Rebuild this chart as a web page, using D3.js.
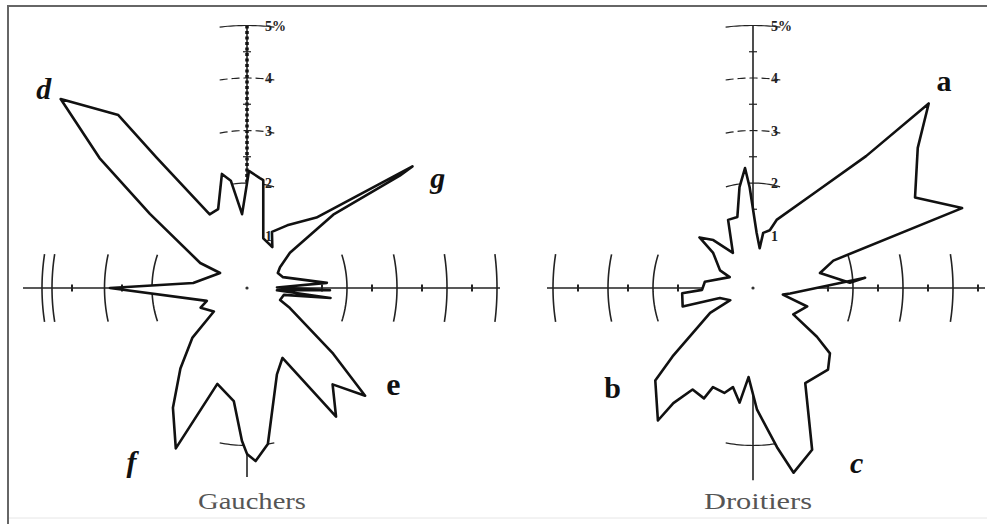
<!DOCTYPE html>
<html><head><meta charset="utf-8">
<script src="https://cdn.jsdelivr.net/npm/d3@7"></script>
<style>html,body{margin:0;padding:0;background:#fff;} svg{display:block}</style>
</head><body>
<script>
// ---------- DATA ----------
const panelNames = ["Gauchers", "Droitiers"];

// compass bearing (deg, clockwise from top) and frequency (%)
const gauchersAngles = [1, 7, 9, 19, 33, 25, 34, 46, 55, 55, 51, 52, 59, 65, 74, 86.5, 89, 91.5, 94, 96.5, 100, 109, 114, 126, 131, 137, 144, 152, 160, 172, 177, 180, 182, 187, 198, 205, 213, 221, 229, 236, 248, 253, 270, 275, 298, 297, 306, 310, 314, 322, 324, 332, 339, 347, 351, 356];
const gauchersValues = [2.23, 2.11, 2.08, 1.0, 0.93, 1.18, 1.44, 1.93, 4.04, 3.73, 2.22, 1.09, 0.77, 0.68, 0.75, 1.6, 0.6, 1.66, 0.6, 1.68, 0.75, 0.7, 0.94, 2.13, 3.13, 2.51, 3.03, 1.51, 1.75, 3.0, 3.3, 3.16, 2.91, 2.17, 1.92, 3.37, 2.72, 2.03, 1.45, 0.8, 1.0, 0.84, 2.74, 1.08, 0.61, 1.05, 2.4, 3.85, 5.18, 4.18, 3.06, 1.59, 1.61, 2.23, 2.07, 1.41];

const droitiersAngles = [356, 358, 4, 10, 11, 17, 20, 34, 42, 45, 51, 62, 70, 72, 78, 87, 85, 98, 102, 108, 122, 126, 129, 136, 150, 159, 167, 171, 178, 183, 187, 192, 196, 203, 205, 212, 216, 217, 228, 231, 241, 243, 254, 256, 266, 268, 277, 294, 297, 310, 312, 319, 329, 339, 347, 352];
const droitiersValues = [2.29, 1.92, 1.05, 0.77, 1.07, 1.15, 1.38, 2.17, 3.38, 4.97, 4.24, 3.67, 4.45, 1.69, 1.37, 1.94, 2.25, 0.75, 0.61, 1.14, 0.95, 1.58, 1.98, 2.16, 2.09, 3.3, 3.61, 3.07, 2.32, 1.7, 2.2, 1.93, 2.08, 2.05, 2.32, 2.28, 2.71, 3.16, 2.63, 2.07, 0.98, 0.51, 0.69, 1.45, 1.42, 1.02, 0.97, 0.51, 0.74, 1.04, 1.44, 1.21, 0.78, 1.39, 1.39, 1.94];

const gauchersLetters = ["d", "g", "e", "f"];
const gauchersLetterAngles = [313, 61, 122, 215];
const gauchersLetterRadii = [5.56, 4.36, 3.45, 4.03];
const droitiersLetters = ["a", "b", "c"];
const droitiersLetterAngles = [44, 236, 148];
const droitiersLetterRadii = [5.5, 3.39, 3.91];

const radialTicks = [1, 2, 3, 4, 5];
const radialTickLabels = ["1", "2", "3", "4", "5%"];
const verticalArcTicks = [2, 3, 4, 5];
const gauchersEastArcs = [2, 3, 4, 5];
const gauchersWestArcs = [1.9, 2.85, 3.9, 4.1];
const droitiersEastArcs = [2, 3, 4];
const droitiersWestArcs = [2, 2.9, 4];
const southArcs = [3];

// ---------- DRAW ----------
const W = 987, H = 524;
const svg = d3.select("body").append("svg").attr("width", W).attr("height", H);

// frame
svg.append("rect").attr("x", 0).attr("y", 0).attr("width", W).attr("height", H).attr("fill", "#fff");
svg.append("line").attr("x1", 7).attr("x2", W).attr("y1", 6).attr("y2", 6).attr("stroke", "#666").attr("stroke-width", 2);
svg.append("line").attr("x1", 8).attr("x2", 8).attr("y1", 6).attr("y2", H).attr("stroke", "#666").attr("stroke-width", 2);
svg.append("line").attr("x1", 9).attr("x2", W).attr("y1", 518).attr("y2", 518).attr("stroke", "#e6e6e6").attr("stroke-width", 1);

const panels = [
  { name: panelNames[0], cx: 247, angles: gauchersAngles, values: gauchersValues,
    letters: gauchersLetters, la: gauchersLetterAngles, lr: gauchersLetterRadii,
    hExt: [-4.48, 5.06], vExt: [-3.6, 5], east: gauchersEastArcs, west: gauchersWestArcs, dotted: true },
  { name: panelNames[1], cx: 753, angles: droitiersAngles, values: droitiersValues,
    letters: droitiersLetters, la: droitiersLetterAngles, lr: droitiersLetterRadii,
    hExt: [-4.12, 4.64], vExt: [-3.66, 5], east: droitiersEastArcs, west: droitiersWestArcs, dotted: false }
];
const cy = 288;
const italicLetters = new Set(["d", "g", "f", "c"]);
const rad = Math.PI / 180;

panels.forEach(p => {
  const x = d3.scaleLinear().domain([-5, 5]).range([p.cx - 250, p.cx + 250]);
  const y = d3.scaleLinear().domain([-5, 5]).range([cy + 262.5, cy - 262.5]);
  const g = svg.append("g");
  const px = (a, r) => x(r * Math.sin(a * rad));
  const py = (a, r) => y(r * Math.cos(a * rad));

  // axes
  g.append("line").attr("x1", x(p.hExt[0])).attr("x2", x(p.hExt[1])).attr("y1", y(0)).attr("y2", y(0))
    .attr("stroke", "#222").attr("stroke-width", 1.6);
  g.append("line").attr("x1", x(0)).attr("x2", x(0)).attr("y1", y(p.vExt[1])).attr("y2", y(p.vExt[0]))
    .attr("stroke", "#222").attr("stroke-width", 1.6);
  if (p.dotted) {
    g.append("line").attr("x1", x(0)).attr("x2", x(0)).attr("y1", y(5)).attr("y2", y(2))
      .attr("stroke", "#111").attr("stroke-width", 3.5).attr("stroke-dasharray", "3,2.5");
  }

  // minor ticks along axes (every 0.5 %)
  const minor = d3.range(-4.5, 5.01, 0.5).filter(v => Math.abs(v % 1) > 0.1);
  minor.filter(v => v > p.hExt[0] && v < p.hExt[1]).forEach(v => {
    g.append("line").attr("x1", x(v)).attr("x2", x(v)).attr("y1", y(0) - 3.5).attr("y2", y(0) + 3.5)
      .attr("stroke", "#222").attr("stroke-width", 2);
  });
  minor.filter(v => v > 0 && v < 5).forEach(v => {
    g.append("line").attr("x1", x(0) - 4).attr("x2", x(0) + 4).attr("y1", y(v)).attr("y2", y(v))
      .attr("stroke", "#222").attr("stroke-width", 1.2);
  });

  // tick arcs
  const arcLine = d3.line().x(d => px(d[0], d[1])).y(d => py(d[0], d[1]));
  function tickArc(centerDeg, r, halfPx, sw, dash) {
    const h = (halfPx / (r * 51)) / rad;
    const pts = d3.range(-h, h + 0.001, h / 10).map(t => [centerDeg + t, r]);
    g.append("path").attr("d", arcLine(pts)).attr("fill", "none").attr("stroke", "#222")
      .attr("stroke-width", sw).attr("stroke-dasharray", dash || null);
  }
  p.east.forEach(r => tickArc(90, r, 33, 1.6));
  p.west.forEach(r => tickArc(270, r, 33, 1.6));
  verticalArcTicks.forEach(r => tickArc(0, r, 28, 1.2, r === 4 || r === 3 ? "8,4" : null));
  southArcs.forEach(r => tickArc(180, r, 28, 1.2));

  // rose polygon
  const pts = p.angles.map((a, i) => [a, p.values[i]]);
  const rose = d3.line().x(d => px(d[0], d[1])).y(d => py(d[0], d[1])).curve(d3.curveLinearClosed);
  g.append("path").attr("d", rose(pts)).attr("fill", "#fff").attr("stroke", "#111")
    .attr("stroke-width", 2.6).attr("stroke-linejoin", "round");

  // centre dot
  g.append("circle").attr("cx", x(0)).attr("cy", y(0)).attr("r", 1.6).attr("fill", "#333");

  // radial tick labels
  radialTicks.forEach((t, i) => {
    g.append("text").attr("x", x(0) + 18).attr("y", y(t) + 5)
      .attr("font-family", "Liberation Serif, serif").attr("font-weight", "bold")
      .attr("font-size", 14).attr("fill", "#222").text(radialTickLabels[i]);
  });

  // peak letters
  p.letters.forEach((l, i) => {
    g.append("text").attr("x", px(p.la[i], p.lr[i])).attr("y", py(p.la[i], p.lr[i]))
      .attr("text-anchor", "middle").attr("dominant-baseline", "central")
      .attr("font-family", "Liberation Serif, serif").attr("font-weight", "bold")
      .attr("font-style", italicLetters.has(l) ? "italic" : "normal")
      .attr("font-size", l === "e" ? 32 : 30).attr("fill", "#111").text(l);
  });

  // panel title
  g.append("text").attr("x", x(0) + 5).attr("y", 509).attr("text-anchor", "middle")
    .attr("font-family", "Liberation Serif, serif").attr("font-size", 24).attr("fill", "#555")
    .attr("textLength", 108).attr("lengthAdjust", "spacingAndGlyphs").text(p.name);
});
</script>
</body></html>
